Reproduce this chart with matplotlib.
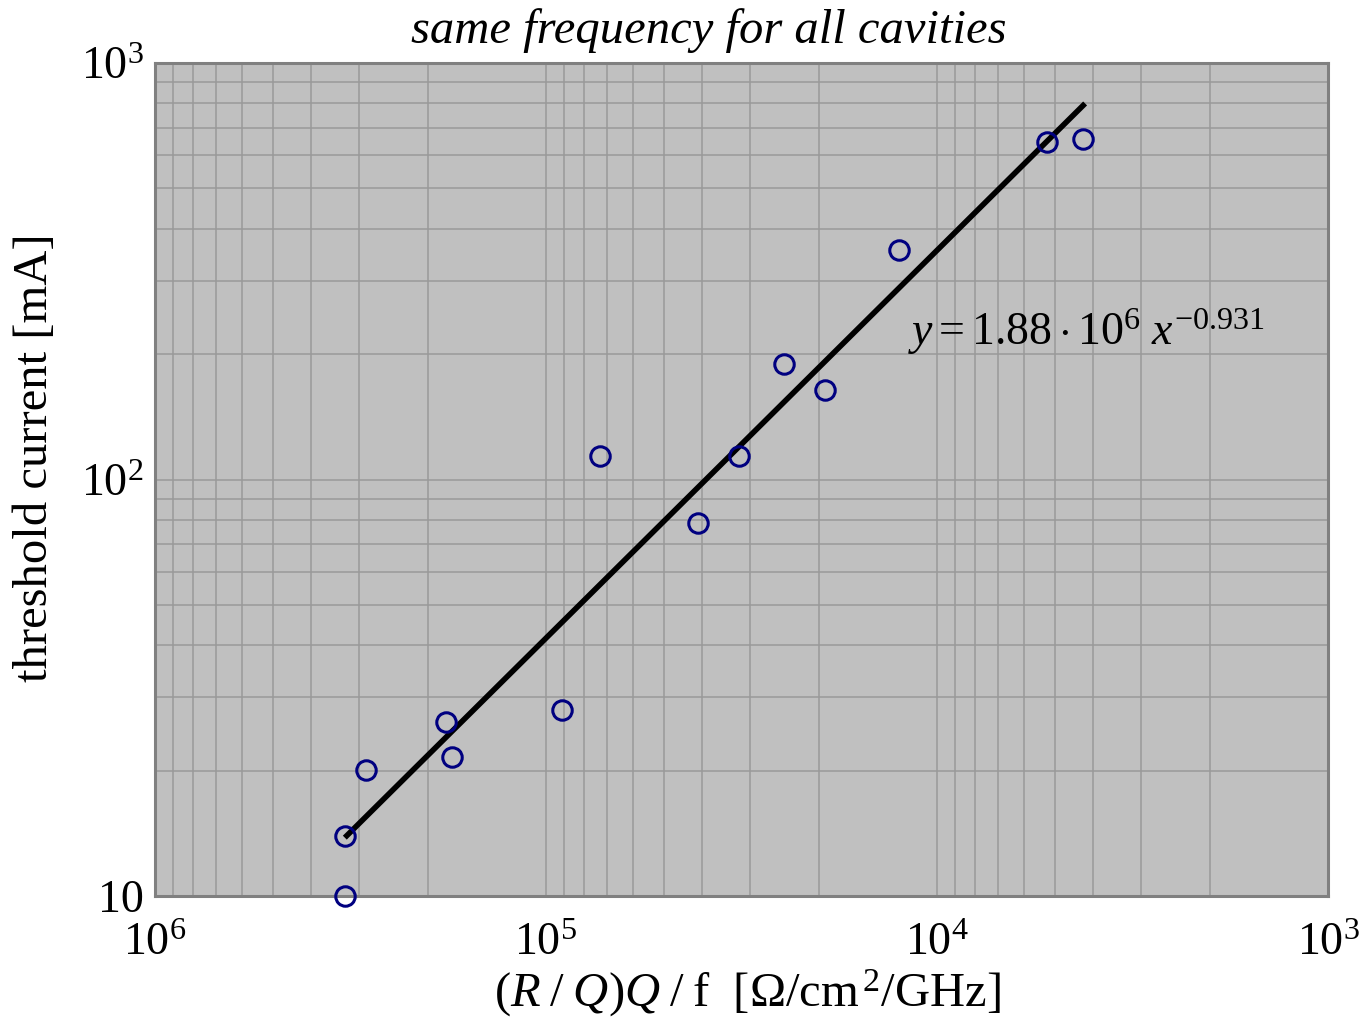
"""Threshold current vs (R/Q)Q/f, log-log with reversed x axis and power-law fit."""

import matplotlib

matplotlib.use("Agg")
import matplotlib.pyplot as plt
import numpy as np
from matplotlib.ticker import FixedLocator, LogLocator, NullFormatter

plt.rcParams["font.family"] = ["Liberation Serif", "DejaVu Serif"]
plt.rcParams["mathtext.fontset"] = "custom"
plt.rcParams["mathtext.rm"] = "Liberation Serif"
plt.rcParams["mathtext.it"] = "Liberation Serif:italic"

# measured cavities: (R/Q)Q/f [Ohm/cm^2/GHz] and threshold current [mA]
rq_over_f = [326600, 326600, 288500, 180200, 173700, 90900, 72800,
             40800, 32100, 24600, 19300, 12500, 5240, 4240]
i_threshold = [10.0, 13.9, 20.1, 26.2, 21.6, 28.0, 113.7,
               78.6, 113.7, 189, 164, 356, 646, 657]

# power-law fit y = A * x^B, drawn over the range of the data
FIT_A = 1.88e6
FIT_B = -0.931
FIT_X_ENDS = [3.27e5, 4.18e3]

X_TICKS = [1e6, 1e5, 1e4, 1e3]
X_TICK_LABELS = [r"$10^{6}$", r"$10^{5}$", r"$10^{4}$", r"$10^{3}$"]
Y_TICKS = [10, 100, 1000]
Y_TICK_LABELS = ["10", r"$10^{2}$", r"$10^{3}$"]

FS_TICK = 33
FS_LABEL = 35

W, H = 1365, 1026
fig = plt.figure(figsize=(W / 100, H / 100), dpi=100)
ax = fig.add_axes([155 / W, 1 - 896 / H, (1328 - 155) / W, (896 - 63) / H])
ax.set_facecolor("#c0c0c0")

ax.set_xscale("log")
ax.set_yscale("log")
ax.set_xlim(1e6, 1e3)
ax.set_ylim(10, 1000)

ax.xaxis.set_major_locator(FixedLocator(X_TICKS))
ax.yaxis.set_major_locator(FixedLocator(Y_TICKS))
ax.xaxis.set_minor_locator(LogLocator(base=10, subs=np.arange(2, 10)))
ax.yaxis.set_minor_locator(LogLocator(base=10, subs=np.arange(2, 10)))
ax.xaxis.set_minor_formatter(NullFormatter())
ax.yaxis.set_minor_formatter(NullFormatter())
ax.set_xticklabels(X_TICK_LABELS, fontsize=FS_TICK)
ax.set_yticklabels(Y_TICK_LABELS, fontsize=FS_TICK)
ax.tick_params(which="both", length=0)
ax.tick_params(axis="y", pad=8)
ax.tick_params(axis="x", pad=19)

ax.grid(which="both", color="#999999", linewidth=1.1)
ax.set_axisbelow(True)
for spine in ax.spines.values():
    spine.set_color("#808080")
    spine.set_linewidth(2.2)

fit_x = np.array(FIT_X_ENDS)
ax.plot(fit_x, FIT_A * fit_x**FIT_B, color="black", linewidth=4,
        solid_capstyle="butt", zorder=3)
ax.plot(rq_over_f, i_threshold, linestyle="none", marker="o", markersize=14,
        markerfacecolor="none", markeredgecolor="#000080",
        markeredgewidth=2.2, zorder=4, clip_on=False)

ax.text(0.642, 0.6615, r"$y=1.88\cdot10^{6}\ x^{-0.931}$",
        transform=ax.transAxes, fontsize=FS_TICK, ha="left", va="baseline")

fig.text(709 / W, 1 - 43 / H, "same frequency for all cavities",
         fontsize=FS_LABEL, style="italic", ha="center", va="baseline")
fig.text(747 / W, 1 - 1007 / H,
         r"$(R\;/\;Q)Q\;/\;$f  [$\Omega$/cm$^{\,2}$/GHz]",
         fontsize=FS_LABEL, ha="center", va="baseline")
fig.text(35 / W, 1 - 458 / H, "threshold current [mA]", fontsize=FS_LABEL,
         rotation=90, ha="center", va="center")

fig.savefig("out.png", dpi=100)
